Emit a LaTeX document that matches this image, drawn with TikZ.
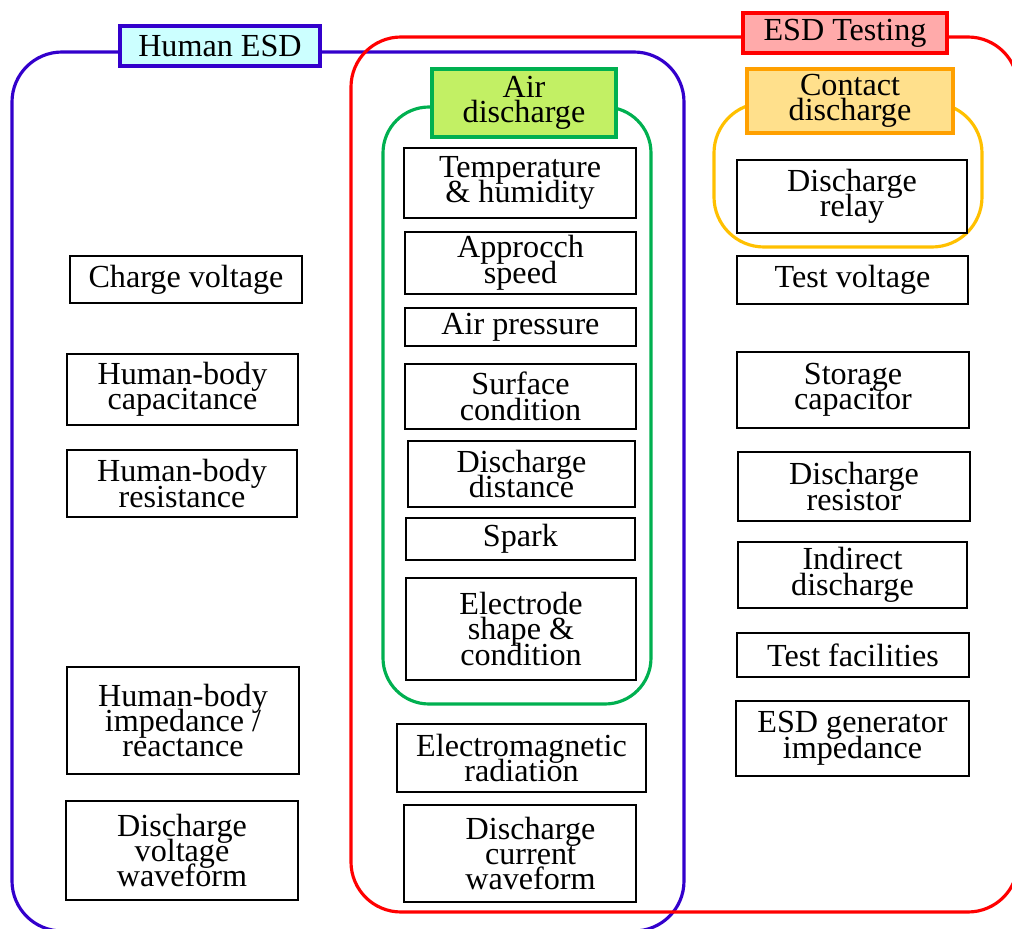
\documentclass[tikz,border=0pt]{standalone}
\usepackage{fontspec}
\setmainfont{Liberation Serif}
\usepackage{tikz}

\definecolor{esdblue}{RGB}{51,0,204}
\definecolor{esdred}{RGB}{255,0,0}
\definecolor{humanfill}{RGB}{204,255,255}
\definecolor{testfill}{RGB}{255,170,170}
\definecolor{airgreen}{RGB}{0,176,80}
\definecolor{airfill}{RGB}{194,240,100}
\definecolor{contorange}{RGB}{255,160,0}
\definecolor{contfill}{RGB}{255,224,140}
\definecolor{contyellow}{RGB}{255,192,0}

\newcommand{\factorfont}{\fontsize{18.3}{14.5}\selectfont\lineskiplimit=-30pt\relax}

\begin{document}
\begin{tikzpicture}[x=0.02cm,y=-0.02cm]
      \tikzset{factor/.style={draw=black,
          line width=1.7pt,
          fill=white,
          align=center,
          inner sep=0pt,
          font=\factorfont},
        boxsize/.style 2 args={minimum width=#1*0.02cm,
          minimum height=#2*0.02cm},
        group/.style={draw=#1, line width=1.8pt, rounded corners=1cm},
        headbox/.style 2 args={draw=#1,
          fill=#2,
          line width=1.8pt,
          align=center,
          inner sep=0pt,
          font=\factorfont}
      }
      \useasboundingbox (0,0) rectangle (1012,929);
      \clip (0,0) rectangle (1012,929);

      % containers
      \draw [group=esdblue] (12,52) rectangle (684,931);
      \draw [group=esdred] (351,37) rectangle (1018,912);
      \draw [group=airgreen, rounded corners=0.92cm] (383,107) rectangle (651,704);
      \draw [group=contyellow] (714,103) rectangle (982,247);

      \node [headbox={esdblue}{humanfill}, boxsize={200}{40}] (human) at (220,46) {Human ESD};
      \node [headbox={esdred}{testfill}, boxsize={204}{40}] (testing) at (845,33) {ESD Testing};
      \node [headbox={airgreen}{airfill}, boxsize={184}{68}] (air) at (524,103) {Air\\discharge};
      \node [headbox={contorange}{contfill}, boxsize={206}{64}] (contact) at (850,101) {Contact\\discharge};

      % human ESD column
      \node [factor, boxsize={232}{47}] (chargev) at (186,279.5) {Charge voltage};
      \node [factor, boxsize={231}{71}] (bodycap) at (182.5,389.5) {Human-body\\capacitance};
      \node [factor, boxsize={230}{67}] (bodyres) at (182,483.5) {Human-body\\resistance};
      \node [factor, boxsize={232}{107}] (bodyimp) at (183,720.5) {Human-body\\impedance /\\reactance};
      \node [factor, boxsize={232}{99}] (dischv) at (182,850.5) {Discharge\\voltage\\waveform};

      % air discharge column
      \node [factor, boxsize={232}{70}] (temp) at (520,183) {Temperature\\\& humidity};
      \node [factor, boxsize={231}{62}] (speed) at (520.5,263) {Approcch\\speed};
      \node [factor, boxsize={231}{38}] (press) at (520.5,327) {Air pressure};
      \node [factor, boxsize={231}{65}] (surf) at (520.5,396.5) {Surface\\condition};
      \node [factor, boxsize={227}{66}] (dist) at (521.5,474) {Discharge\\distance};
      \node [factor, boxsize={229}{42}] (spark) at (520.5,539) {Spark};
      \node [factor, boxsize={230}{102}] (electrode) at (521,629) {Electrode\\shape \&\\condition};
      \node [factor, boxsize={249}{68}] (emrad) at (521.5,758) {Electromagnetic\\radiation};
      \node [factor, boxsize={232}{97}] (dischc) at (520,853.5) {\hspace*{12pt}Discharge\\\hspace*{12pt}current\\\hspace*{12pt}waveform};

      % contact discharge column
      \node [factor, boxsize={230}{73}] (relay) at (852,196.5) {Discharge\\relay};
      \node [factor, boxsize={231}{48}] (testv) at (852.5,280) {Test voltage};
      \node [factor, boxsize={232}{76}] (storage) at (853,390) {Storage\\capacitor};
      \node [factor, boxsize={232}{69}] (resistor) at (854,486.5) {Discharge\\resistor};
      \node [factor, boxsize={229}{66}] (indirect) at (852.5,575) {Indirect\\discharge};
      \node [factor, boxsize={232}{44}] (facil) at (853,655) {Test facilities};
      \node [factor, boxsize={233}{75}] (genimp) at (852.5,738.5) {ESD generator\\impedance};
\end{tikzpicture}
\end{document}
